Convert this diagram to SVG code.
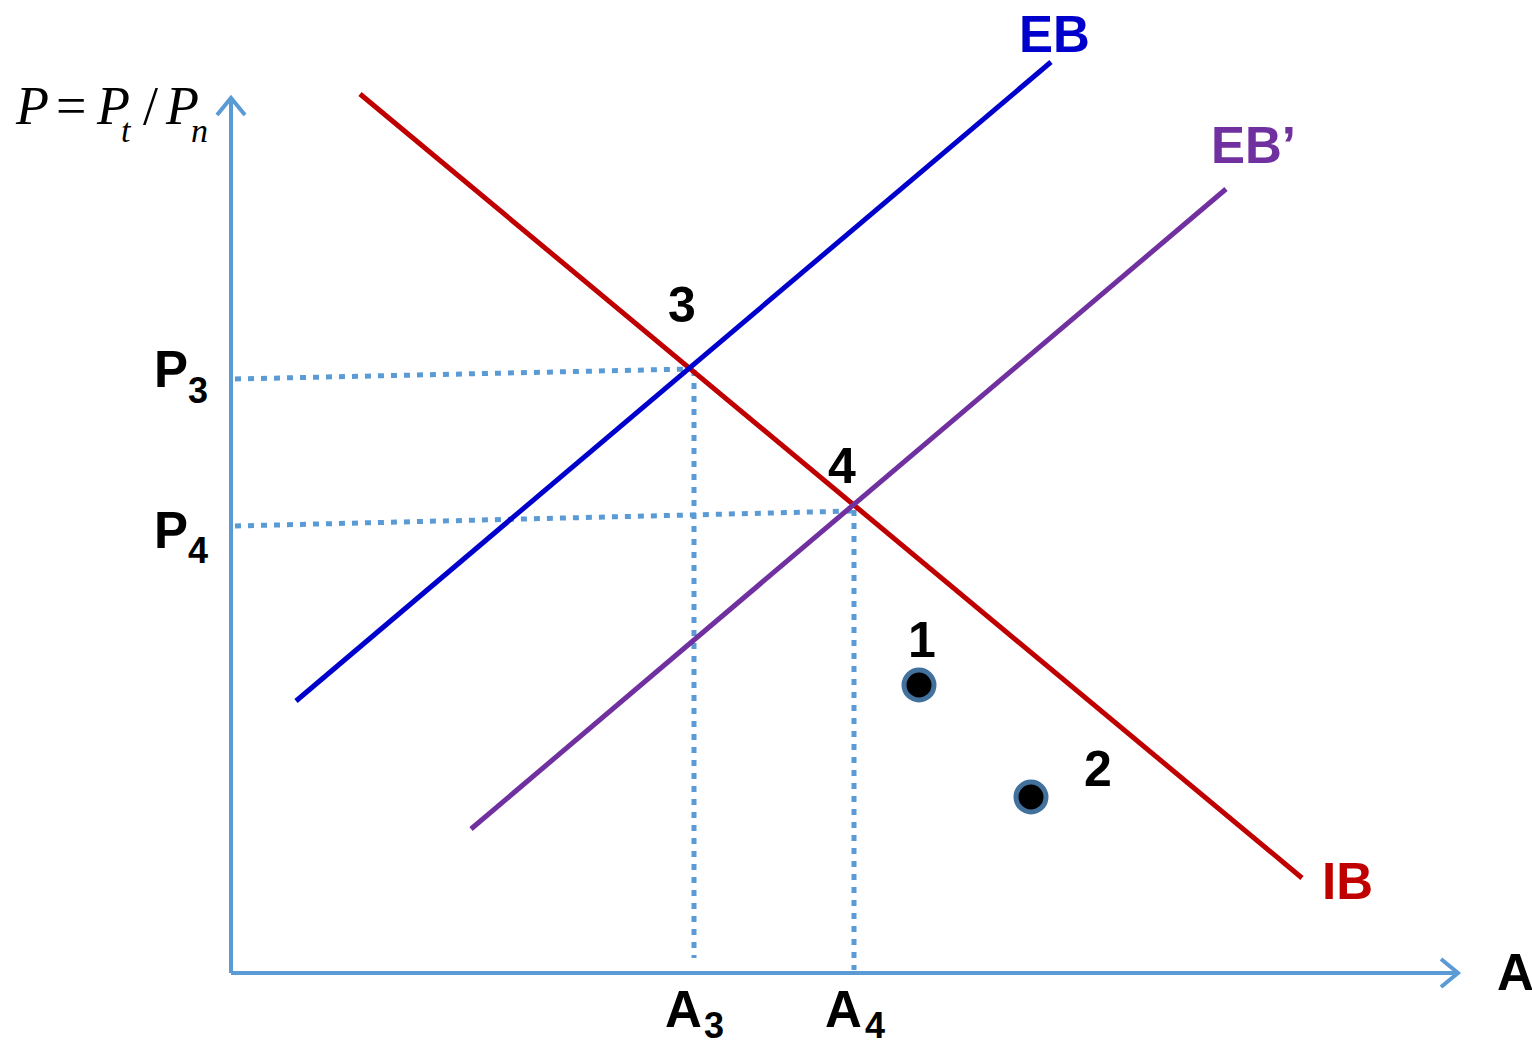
<svg xmlns="http://www.w3.org/2000/svg" width="1532" height="1044" viewBox="0 0 1532 1044">
<style>
.lbl{font-family:"Liberation Sans",Arial,sans-serif;font-weight:bold;font-size:51px}
.sub{font-size:36px}
.num{font-family:"Liberation Sans",Arial,sans-serif;font-weight:bold;font-size:50px;text-anchor:middle;fill:#000}
.math{font-family:"Liberation Serif","Times New Roman",serif;font-size:54px}
.msub{font-size:34px;font-style:italic}
.axis{stroke:#5B9BD5;stroke-width:4;fill:none}
.dot{stroke:#5B9BD5;stroke-width:5;stroke-dasharray:6 7;fill:none}
.curve{stroke-width:5;fill:none}
.pt{fill:#000;stroke:#41719C;stroke-width:5}
</style>
<rect width="1532" height="1044" fill="#fff"/>
<g id="connectors">
<path id="y-axis" class="axis" d="M231,973 V98 M217,115 L231,98 L245,115"/>
<path id="x-axis" class="axis" d="M231,973 H1458 M1441,959 L1458,973 L1441,987"/>
<path id="p3-guide" class="dot" d="M235,379 L690,369"/>
<path id="p4-guide" class="dot" d="M235,526 L853,511"/>
<path id="a3-guide" class="dot" d="M694,370 V958"/>
<path id="a4-guide" class="dot" d="M854,510 V970"/>
<line id="IB-line" class="curve" stroke="#C00000" x1="360" y1="94" x2="1302" y2="878"/>
<line id="EB-line" class="curve" stroke="#0000CC" x1="296" y1="701" x2="1051" y2="62"/>
<line id="EBp-line" class="curve" stroke="#7030A0" x1="471" y1="829" x2="1226" y2="189"/>
</g>
<g id="axis-title">
<text class="math" y="124"><tspan x="16" font-style="italic">P</tspan><tspan x="56">=</tspan><tspan x="97" font-style="italic">P</tspan><tspan class="msub" x="121" y="142">t</tspan><tspan x="143" y="124">/</tspan><tspan x="166" font-style="italic">P</tspan><tspan class="msub" x="191" y="142">n</tspan></text>
</g>
<g id="label-EB"><text class="lbl" fill="#0000CC" x="1019" y="52">EB</text></g>
<g id="label-EBp"><text class="lbl" fill="#7030A0" x="1211" y="163">EB’</text></g>
<g id="label-IB"><text class="lbl" fill="#C00000" x="1322" y="899">IB</text></g>
<g id="label-A"><text class="lbl" fill="#000" x="1497" y="990">A</text></g>
<g id="node-3"><text class="num" x="682" y="322">3</text></g>
<g id="node-4"><text class="num" x="842" y="483">4</text></g>
<g id="node-1"><circle class="pt" cx="919" cy="685" r="15"/><text class="num" x="922" y="657">1</text></g>
<g id="node-2"><circle class="pt" cx="1031" cy="797" r="15"/><text class="num" x="1098" y="786">2</text></g>
<g id="label-P3"><text class="lbl" x="154" y="387">P<tspan class="sub" x="188" y="403">3</tspan></text></g>
<g id="label-P4"><text class="lbl" x="154" y="548">P<tspan class="sub" x="188" y="563">4</tspan></text></g>
<g id="label-A3"><text class="lbl" x="665" y="1027">A<tspan class="sub" x="704" y="1038">3</tspan></text></g>
<g id="label-A4"><text class="lbl" x="825" y="1027">A<tspan class="sub" x="865" y="1038">4</tspan></text></g>
</svg>
